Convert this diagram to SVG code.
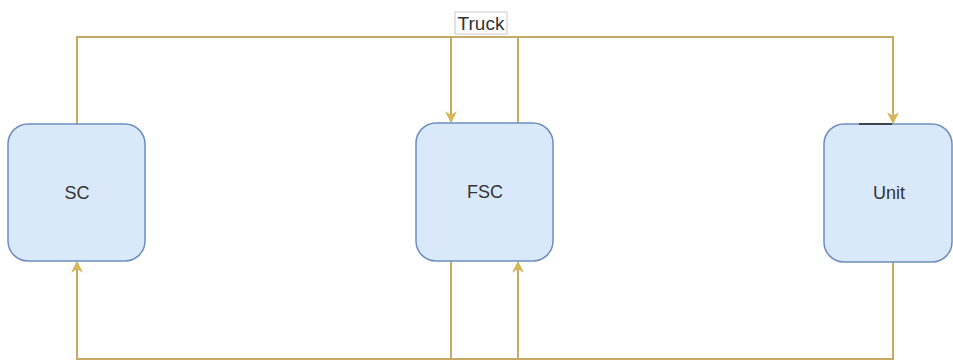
<svg xmlns="http://www.w3.org/2000/svg" width="953" height="361" viewBox="0 0 953 361">
<style>
.node{fill:#dae8fc;stroke:#6c8ebf;stroke-width:1.5}
.lbl{font-family:"Liberation Sans",Arial,sans-serif;font-size:18px;fill:#333;text-anchor:middle;dominant-baseline:central}
.edge{fill:none;stroke:#c4aa62;stroke-width:2}
</style>
<defs>
<marker id="arr" viewBox="0 0 10 10" refX="9" refY="5" markerWidth="12" markerHeight="12" markerUnits="userSpaceOnUse" orient="auto">
<path d="M0,0 L10,5 L0,10 L3,5 Z" fill="#d6b656"/>
</marker>
</defs>
<rect width="953" height="361" fill="#fff"/>
<g id="connectors">
<path class="edge" d="M77,124 V37 H893 V123" marker-end="url(#arr)"/>
<path class="edge" d="M451,37 V122" marker-end="url(#arr)"/>
<path class="edge" d="M518,123 V37"/>
<path class="edge" d="M893,262 V359 H77 V262" marker-end="url(#arr)"/>
<path class="edge" d="M451,261 V359"/>
<path class="edge" d="M518,359 V262" marker-end="url(#arr)"/>
</g>
<g id="truck-label">
<rect x="455" y="12" width="52" height="22" fill="#fff" stroke="#bbb" stroke-width="0.8"/>
<text x="481" y="23" class="lbl" style="font-size:19px">Truck</text>
</g>
<g id="SC">
<rect class="node" x="8" y="124" width="137" height="137" rx="20"/>
<text x="77" y="193" class="lbl">SC</text>
</g>
<g id="FSC">
<rect class="node" x="416" y="123" width="137" height="138" rx="20"/>
<text x="485" y="192" class="lbl">FSC</text>
</g>
<g id="Unit">
<rect class="node" x="824" y="124" width="128" height="138" rx="20"/>
<line x1="859" y1="124" x2="892" y2="124" stroke="#222" stroke-width="1.5"/>
<text x="889" y="193" class="lbl">Unit</text>
</g>
</svg>
